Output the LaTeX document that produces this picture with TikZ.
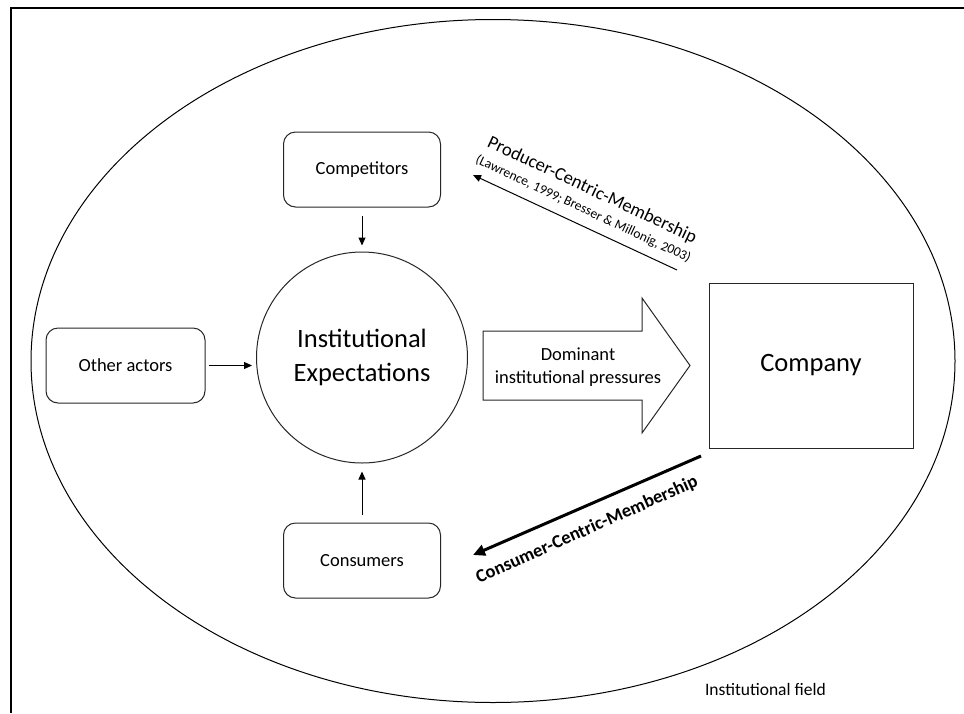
\documentclass[tikz,border=0pt]{standalone}
\usepackage{fontspec}
\setmainfont{Carlito}
\usetikzlibrary{arrows.meta}
\begin{document}
\begin{tikzpicture}[x=1pt,y=-1pt,
  rbox/.style={draw=black!85, line width=1pt, rounded corners=12pt, minimum width=157pt, minimum height=75pt, inner sep=0pt, font=\fontsize{18.5}{22.5}\selectfont},
  lbl/.style={inner sep=0pt, font=\fontsize{18.5}{22.5}\selectfont},
  conn/.style={-{Triangle[length=8pt,width=7pt]}, line width=1pt},
  thickconn/.style={-{Triangle[length=12pt,width=11pt]}, line width=3pt},
  outline/.style={draw=black!85, line width=1pt}]
\useasboundingbox (0,0) rectangle (964,713);
% frame
\draw[line width=2pt] (11,713) -- (11,8) -- (964,8);
% institutional field ellipse
\draw[line width=1pt] (493,361) ellipse [x radius=462, y radius=341.5];
\node[lbl, anchor=east, font=\fontsize{17.5}{21}\selectfont] (field) at (826,689) {Institutional field};
% nodes
\node[rbox] (comp) at (362,169.5) {Competitors};
\node[rbox, minimum width=159pt] (other) at (125.5,365.5) {Other actors};
\node[rbox] (cons) at (362,560.5) {Consumers};
\node[circle, outline, minimum size=211pt, inner sep=0pt, align=center, font=\fontsize{26.5}{34}\selectfont] (ie) at (362,357.5) {Institutional\\Expectations};
\node[outline, minimum width=204pt, minimum height=165pt, inner sep=0pt, font=\fontsize{26.5}{32}\selectfont] (company) at (811,365.5) {Company};
% connectors to circle
\draw[conn, shorten <=8pt, shorten >=6pt] (comp) -- (ie);
\draw[conn, shorten <=8pt, shorten >=8pt] (cons) -- (ie);
\draw[conn, shorten <=3pt, shorten >=4pt] (other.east) -- (other.east -| ie.west);
% big block arrow
\draw[outline] (483,331) -- (642,331) -- (642,298) -- (690,365.5) -- (642,433) -- (642,400) -- (483,400) -- cycle;
\node[lbl, align=center] (dip) at (578,367) {Dominant\\institutional pressures};
% producer-centric membership
\coordinate (p1) at (677,270);
\coordinate (p2) at (473,175);
\draw[conn] (p1) -- (p2);
\node[lbl, rotate=-25, align=center] (prod) at (588,199) {Producer-Centric-Membership\\[-3pt]{\fontsize{13.5}{16}\selectfont (Lawrence, 1999; Bresser \& Millonig, 2003)}};
% consumer-centric membership
\coordinate (c1) at (701,456);
\coordinate (c2) at (473,555);
\draw[thickconn] (c1) -- (c2);
\node[lbl, rotate=24, font=\fontsize{18.5}{22.5}\selectfont\bfseries] (consA) at (587,530) {Consumer-Centric-Membership};
\end{tikzpicture}
\end{document}
